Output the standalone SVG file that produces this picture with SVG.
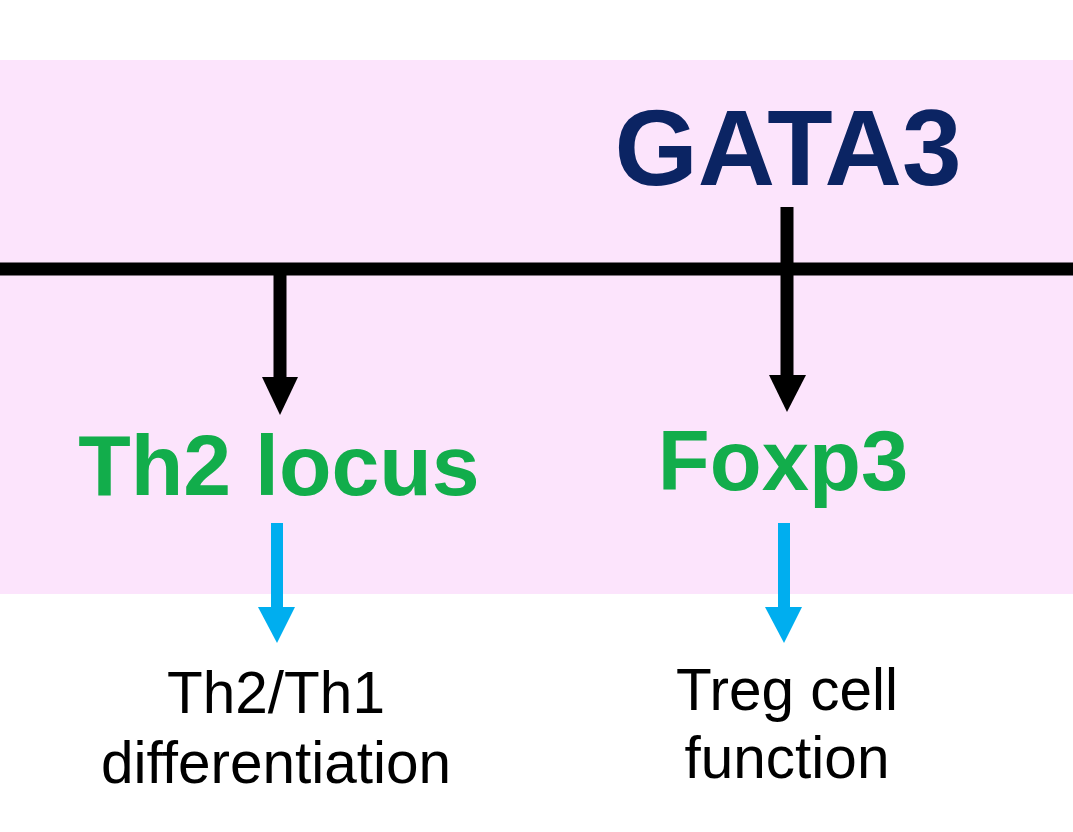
<svg xmlns="http://www.w3.org/2000/svg" width="1073" height="832" viewBox="0 0 1073 832">
<style>
.hd{font-family:"Liberation Sans",Arial,sans-serif;font-weight:bold;text-anchor:middle}
.lb{font-family:"Liberation Sans",Arial,sans-serif;font-size:58.5px;fill:#000;text-anchor:middle}
.blk{stroke:#000;stroke-width:13;fill:none}
.blu{stroke:#00AEEF;stroke-width:12;fill:none}
</style>
<rect x="0" y="0" width="1073" height="832" fill="#fff"/>
<rect x="0" y="60" width="1073" height="534" fill="#FCE4FC"/>
<g id="connectors">
<line class="blk" x1="0" y1="269" x2="1073" y2="269"/>
<line class="blk" x1="280" y1="269" x2="280" y2="380"/>
<polygon points="262,377 298,377 280,415" fill="#000"/>
<line class="blk" x1="787" y1="207" x2="787" y2="378"/>
<polygon points="769,375 806,375 787,412" fill="#000"/>
<line class="blu" x1="277" y1="523" x2="277" y2="610"/>
<polygon points="258,607 295,607 277,643" fill="#00AEEF"/>
<line class="blu" x1="784" y1="523" x2="784" y2="610"/>
<polygon points="765,607 802,607 784,643" fill="#00AEEF"/>
</g>
<g id="gata3"><text class="hd" x="788" y="185" font-size="107" fill="#0B2463" textLength="347" lengthAdjust="spacingAndGlyphs">GATA3</text></g>
<g id="th2locus"><text class="hd" x="279" y="495" font-size="86" fill="#12AD4B">Th2 locus</text></g>
<g id="foxp3"><text class="hd" x="783" y="490" font-size="85" fill="#12AD4B">Foxp3</text></g>
<g id="th2th1"><text class="lb" x="276" y="713">Th2/Th1</text><text class="lb" x="276" y="783">differentiation</text></g>
<g id="treg"><text class="lb" x="787" y="710">Treg cell</text><text class="lb" x="787" y="778">function</text></g>
</svg>
